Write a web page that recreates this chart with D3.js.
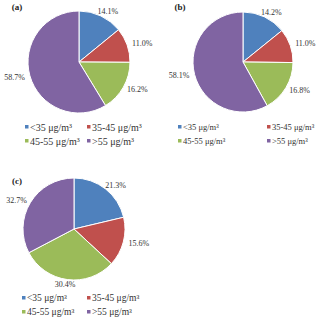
<!DOCTYPE html>
<html>
<head>
<meta charset="utf-8">
<script src="https://cdn.jsdelivr.net/npm/d3@7"></script>
<style>
	html, body { margin: 0; padding: 0; background: #fff; }
	svg { display: block; font-family: "Liberation Serif", "Times New Roman", serif; }
</style>
</head>
<body>
<div id="chart"></div>
<script>
// legend categories (PM2.5 bins)
const categories = ['<35 μg/m³', '35-45 μg/m³', '45-55 μg/m³', '>55 μg/m³'];
const colors = ['#4f81bd', '#c0504d', '#9bbb59', '#8064a2'];

// percent shares per panel
const panelNames = ['(a)', '(b)', '(c)'];
const valuesA = [14.1, 11.0, 16.2, 58.7];
const valuesB = [14.2, 11.0, 16.8, 58.1];
const valuesC = [21.3, 15.6, 30.4, 32.7];

//------------------------------------------------------------------------------
const w = 320, h = 320;

// where each little pie sits
const panels = [
	{name: panelNames[0], vals: valuesA, cx: 79, cy: 62, r: 51, tx: 17, ty: 7,
		lx: [25, 87], ly: [127, 141], fs: 10},
	{name: panelNames[1], vals: valuesB, cx: 243, cy: 62, r: 50, tx: 180, ty: 7,
		lx: [178, 267], ly: [127, 141], fs: 8.5},
	{name: panelNames[2], vals: valuesC, cx: 74, cy: 229, r: 51, tx: 17, ty: 181,
		lx: [22, 87], ly: [298, 312], fs: 9.5}
];

var svg = d3.select('#chart')
	.append('svg')
	.attr('width', w)
	.attr('height', h);

var pie = d3.pie().sort(null).value(function(d) { return d; });

panels.forEach(function(p) {
	var g = svg.append('g')
		.attr('transform', 'translate(' + p.cx + ',' + p.cy + ')');

	var arc = d3.arc().innerRadius(0).outerRadius(p.r);
	var arcs = pie(p.vals);

	g.selectAll('path')
		.data(arcs)
		.enter()
		.append('path')
		.attr('d', arc)
		.attr('fill', function(d, i) { return colors[i]; })
		.attr('stroke', '#fff')
		.attr('stroke-width', 1);

	// percent labels just outside the rim
	const hw = 15, hh = 4, gap = 1;
	g.selectAll('text.lbl')
		.data(arcs)
		.enter()
		.append('text')
		.attr('class', 'lbl')
		.attr('font-size', 8)
		.attr('fill', '#333')
		.attr('text-anchor', 'middle')
		.attr('dominant-baseline', 'central')
		.attr('x', function(d) {
			var a = (d.startAngle + d.endAngle) / 2;
			return (p.r + gap + hw) * Math.sin(a);
		})
		.attr('y', function(d) {
			var a = (d.startAngle + d.endAngle) / 2;
			return -(p.r + gap + hh) * Math.cos(a);
		})
		.text(function(d) { return d.data.toFixed(1) + '%'; });

	// panel tag
	svg.append('text')
		.attr('x', p.tx)
		.attr('y', p.ty)
		.attr('text-anchor', 'middle')
		.attr('dominant-baseline', 'central')
		.attr('font-size', 9)
		.attr('font-weight', 'bold')
		.attr('fill', '#222')
		.text(p.name);

	// 2x2 legend
	categories.forEach(function(c, i) {
		var x = p.lx[i % 2], y = p.ly[Math.floor(i / 2)];
		svg.append('rect')
			.attr('x', x)
			.attr('y', y - 2)
			.attr('width', 3.5)
			.attr('height', 3.5)
			.attr('fill', colors[i]);
		svg.append('text')
			.attr('x', x + 5)
			.attr('y', y)
			.attr('dominant-baseline', 'central')
			.attr('font-size', p.fs)
			.attr('fill', '#333')
			.text(c);
	});
});
</script>
</body>
</html>
